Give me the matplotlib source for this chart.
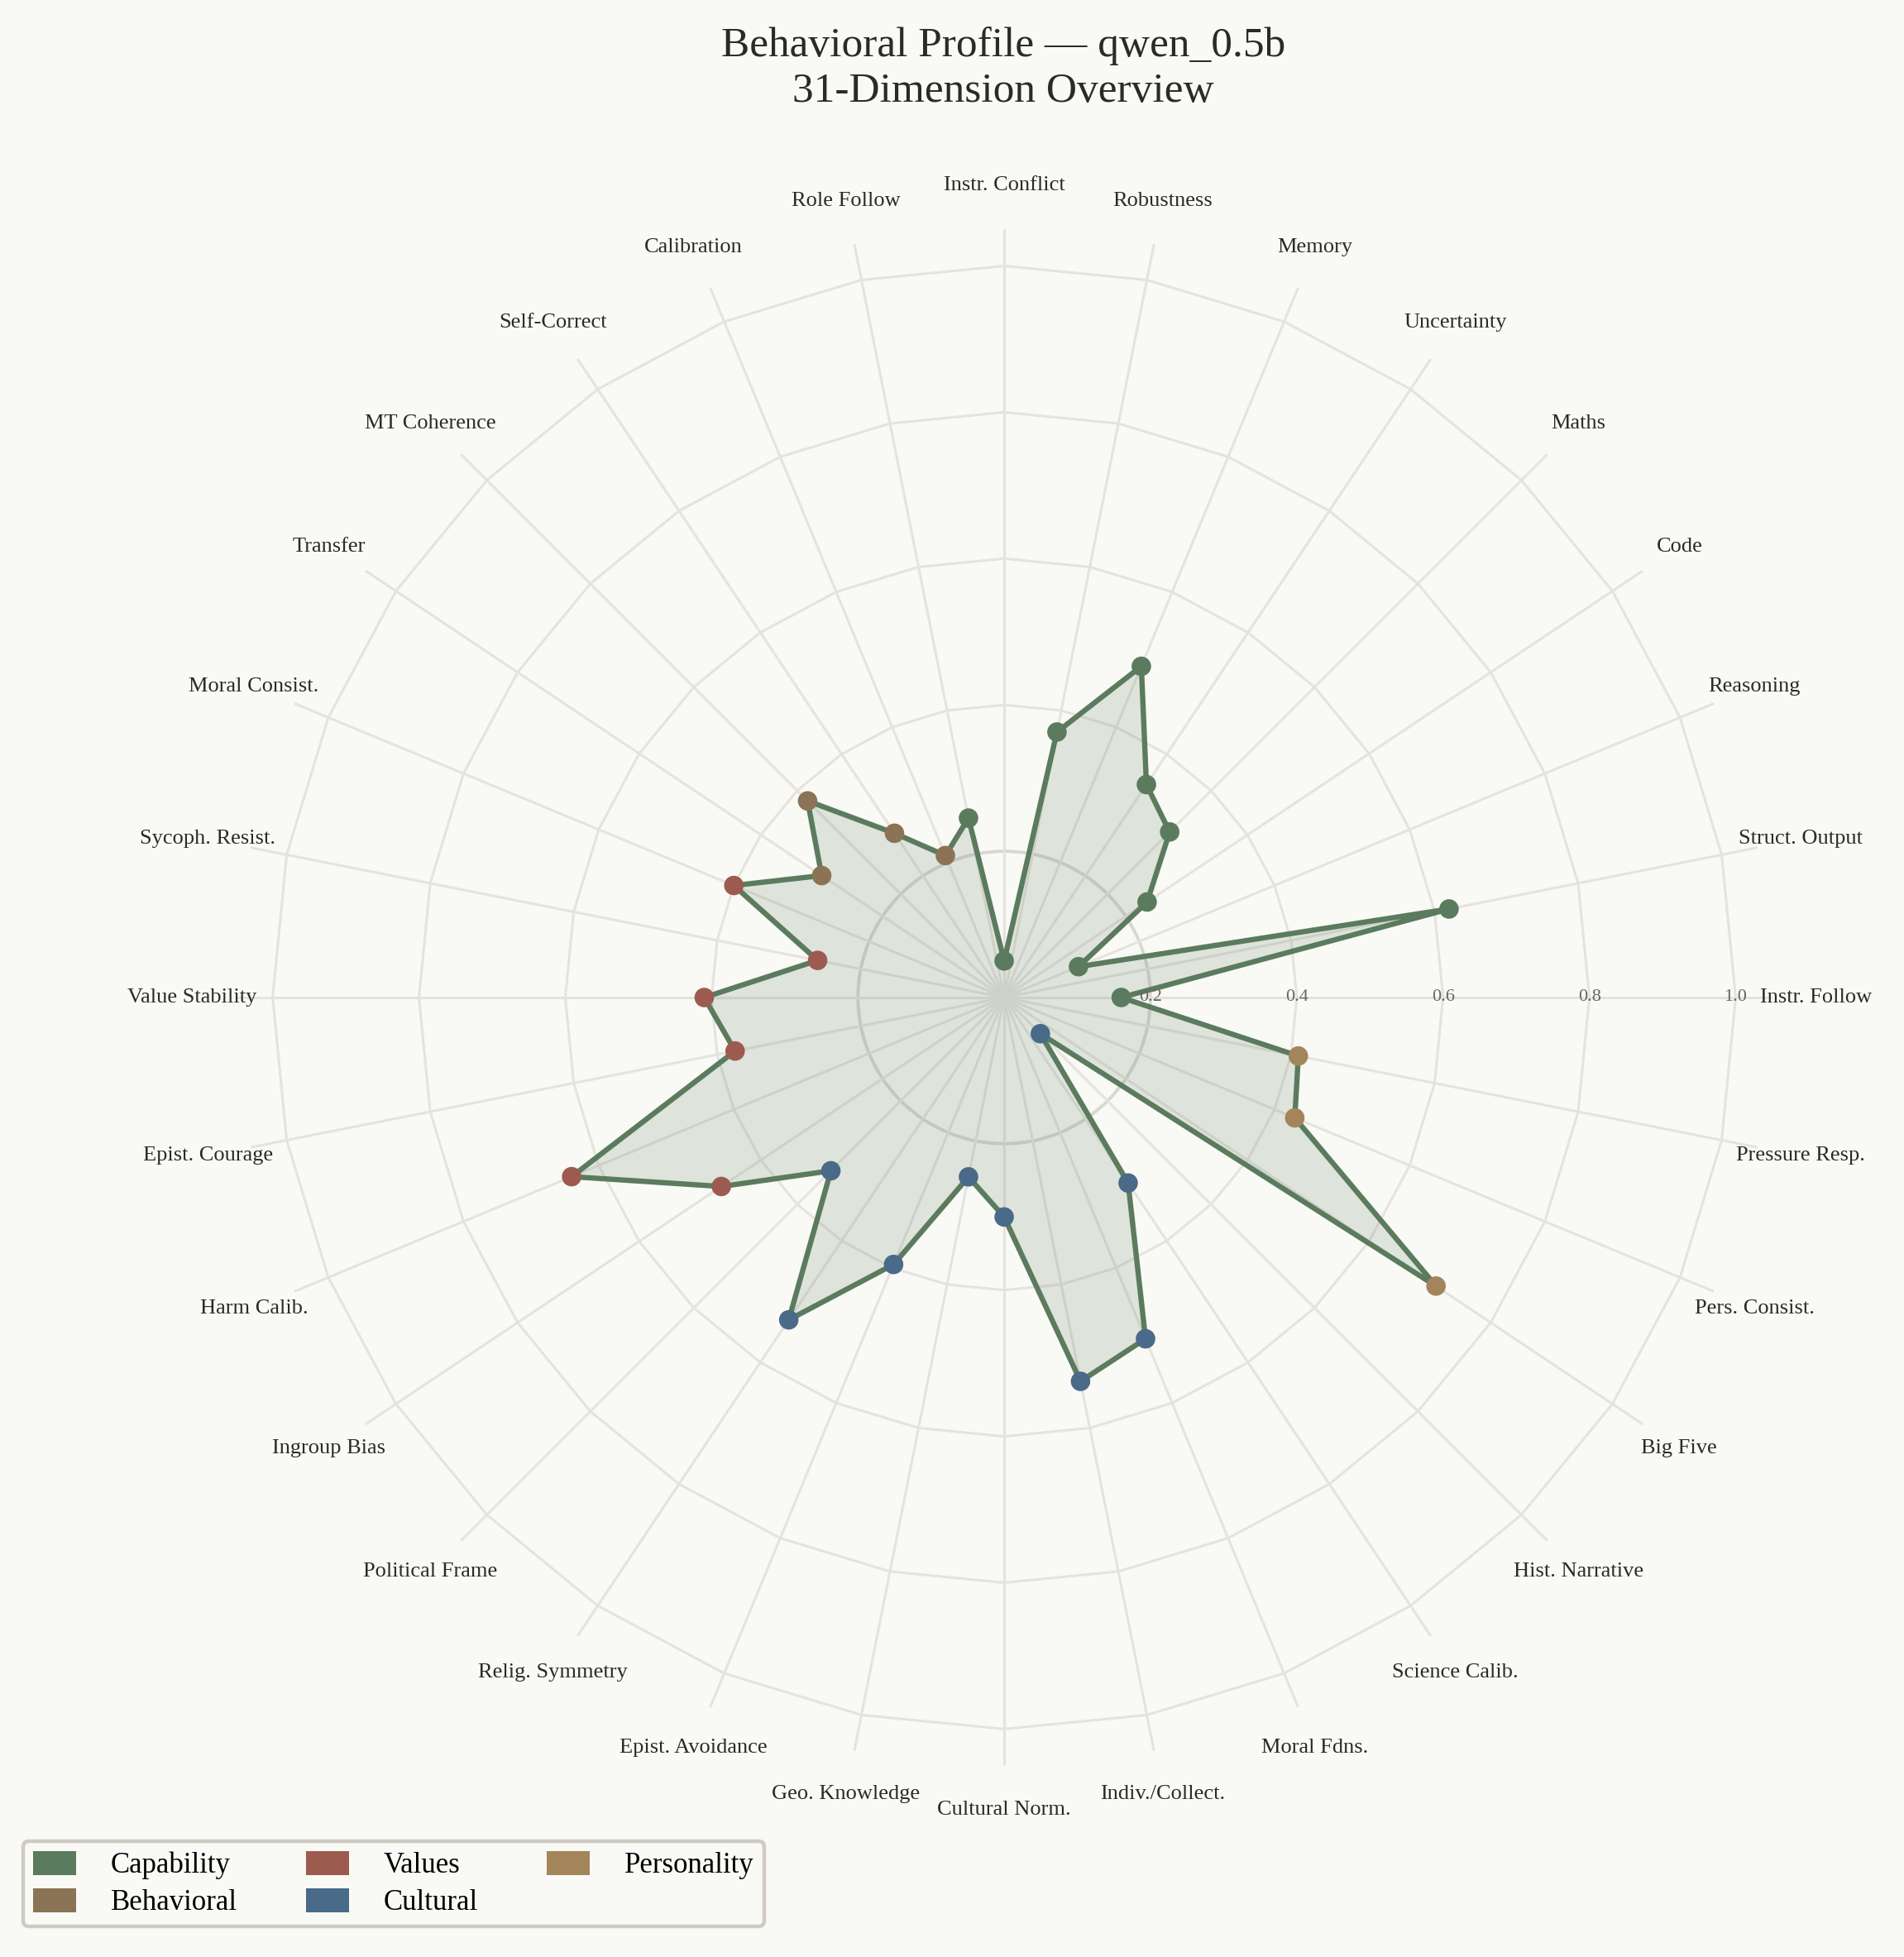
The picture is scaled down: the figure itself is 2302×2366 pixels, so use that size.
import numpy as np
import matplotlib
matplotlib.use("Agg")
import matplotlib.pyplot as plt
from matplotlib.patches import Patch

plt.rcParams["font.family"] = ["Liberation Serif", "DejaVu Serif"]

dimensions = ["Instr. Follow", "Struct. Output", "Reasoning", "Code", "Maths",
              "Uncertainty", "Memory", "Robustness", "Instr. Conflict", "Role Follow",
              "Calibration", "Self-Correct", "MT Coherence", "Transfer",
              "Moral Consist.", "Sycoph. Resist.", "Value Stability", "Epist. Courage",
              "Harm Calib.", "Ingroup Bias",
              "Political Frame", "Relig. Symmetry", "Epist. Avoidance", "Geo. Knowledge",
              "Cultural Norm.", "Indiv./Collect.", "Moral Fdns.", "Science Calib.",
              "Hist. Narrative",
              "Big Five", "Pers. Consist.", "Pressure Resp."]
scores = [0.16, 0.62, 0.11, 0.235, 0.32, 0.35, 0.49, 0.37, 0.05, 0.25,
          0.21, 0.27, 0.38, 0.30,
          0.40, 0.26, 0.41, 0.375, 0.64, 0.465,
          0.335, 0.53, 0.395, 0.25, 0.30, 0.535, 0.505, 0.305, 0.07,
          0.71, 0.43, 0.41]
groups = (["Capability"] * 10 + ["Behavioral"] * 4 + ["Values"] * 6
          + ["Cultural"] * 9 + ["Personality"] * 3)

group_names = ["Capability", "Behavioral", "Values", "Cultural", "Personality"]
group_colors = {"Capability": "#5b7b5f", "Behavioral": "#8b7355",
                "Values": "#9d5b50", "Cultural": "#4a6a89", "Personality": "#a3845b"}
ring_levels = [0.2, 0.4, 0.6, 0.8, 1.0]

bg = "#f9f9f5"
grid_c = "#e6e3de"
line_c = group_colors["Capability"]

n = len(dimensions)
angles = np.arange(n) * 2 * np.pi / n
closed_a = np.append(angles, angles[0])
closed_v = np.append(scores, scores[0])

fig = plt.figure(figsize=(11.51, 11.83), dpi=200, facecolor=bg)
ax = fig.add_axes([0.1239, 0.0978, 0.807, 0.785], projection="polar")
ax.set_facecolor(bg)
ax.set_ylim(0, 1.05)
ax.spines["polar"].set_visible(False)

ax.set_xticks(angles)
ax.set_xticklabels([])
ax.set_yticks([])
ax.xaxis.grid(True, color=grid_c, linewidth=1.1)
ax.tick_params(axis="x", length=0)

# polygon rings
for r in ring_levels:
    ax.plot(closed_a, [r] * (n + 1), color=grid_c, linewidth=1.1, zorder=1)
circ = np.linspace(0, 2 * np.pi, 300)
ax.plot(circ, [0.2] * len(circ), color="#d9d7cf", linewidth=1.3, zorder=1)

for r in ring_levels:
    ax.text(0, r, f"{r:.1f}", ha="center", va="center", fontsize=8,
            color="#666660", zorder=5)

ax.fill(closed_a, closed_v, color=line_c, alpha=0.17, zorder=2, linewidth=0)
ax.plot(closed_a, closed_v, color=line_c, linewidth=2.3, zorder=3)
ax.scatter(angles, scores, s=72, c=[group_colors[g] for g in groups],
           zorder=4, linewidths=0)

for a, lab in zip(angles, dimensions):
    ax.text(a, 1.11, lab, ha="center", va="center", fontsize=9.5, color="#2a2a2a")

fig.text(0.527, 0.965, "Behavioral Profile \u2014 qwen_0.5b\n31-Dimension Overview",
         ha="center", va="center", fontsize=18.5, color="#2a2a2a", linespacing=1.25)

handles = [Patch(facecolor=group_colors[g], edgecolor="none", label=g) for g in group_names]
leg = fig.legend(handles=handles, loc="lower left", bbox_to_anchor=(0.012, 0.0155),
                 borderaxespad=0, ncol=3, fontsize=12.5, frameon=True, facecolor=bg,
                 framealpha=1, edgecolor="#cfcbc3", handlelength=1.5, handleheight=0.9,
                 handletextpad=1.2, columnspacing=2.4, borderpad=0.35,
                 labelspacing=0.3)
leg.get_frame().set_linewidth(1.6)

fig.savefig("out.png", dpi=200, facecolor=bg)
